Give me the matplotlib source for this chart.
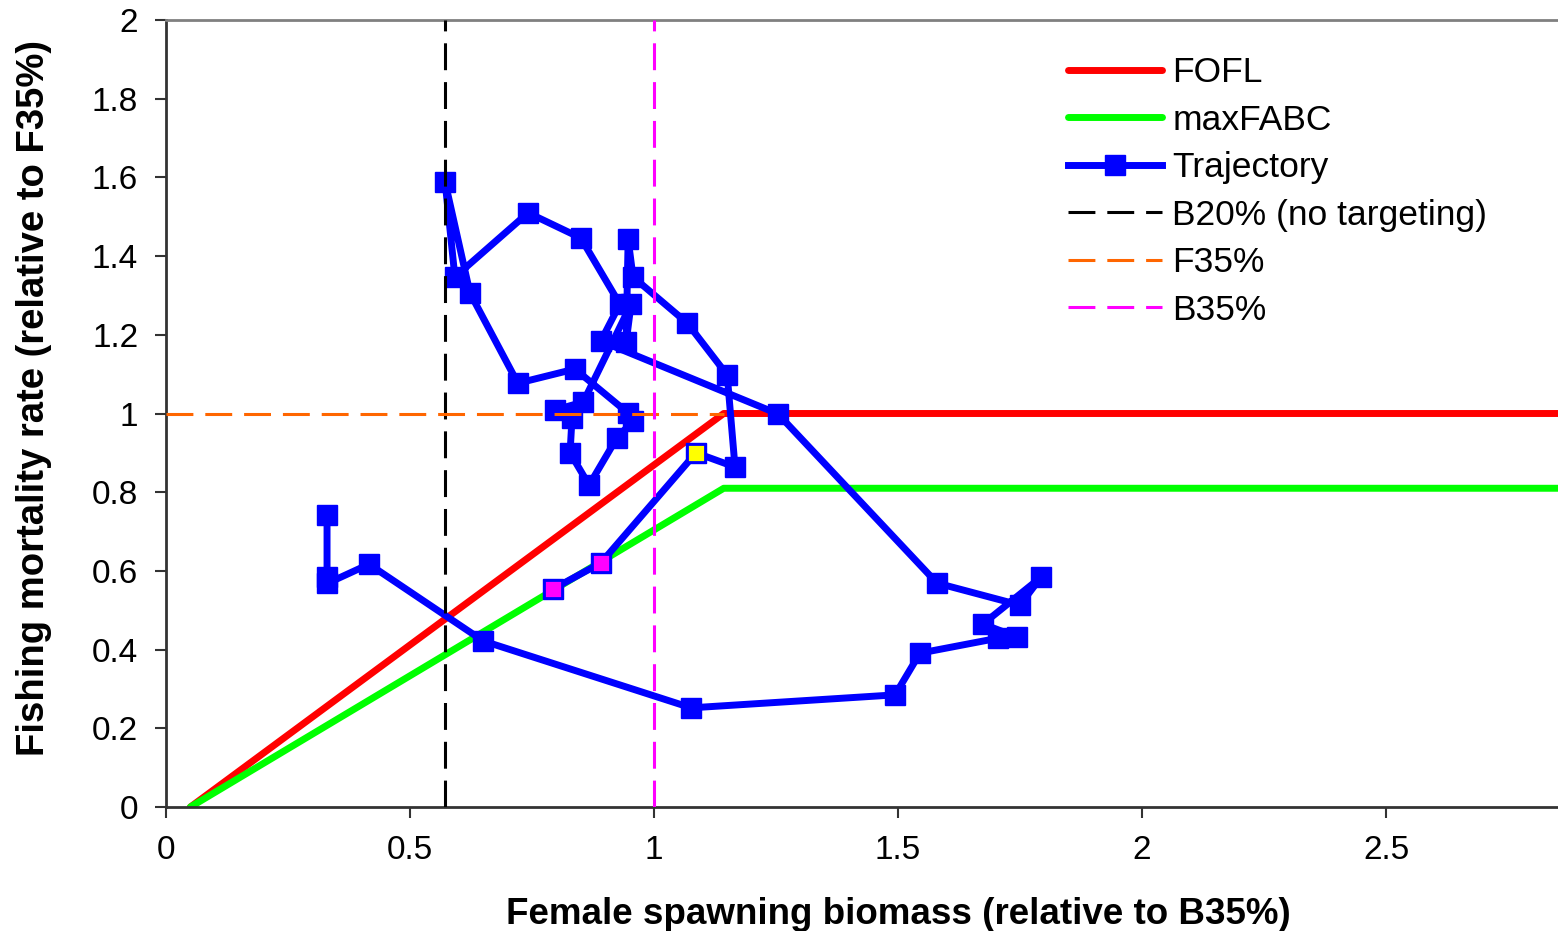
import matplotlib
matplotlib.use("Agg")
import matplotlib.pyplot as plt
from matplotlib.ticker import FuncFormatter

plt.rcParams['font.family'] = ['Liberation Sans', 'DejaVu Sans']

# Harvest control rules (x: B/B35%, y: F/F35%)
rule_b = [0.05, 40 / 35, 3.0]
fofl_f = [0.0, 1.0, 1.0]
maxfabc_f = [0.0, 0.81, 0.81]

# Reference points
b20_rel = 20 / 35
b35_rel = 1.0
f35_rel = 1.0

# Stock trajectory
traj_b = [0.330, 0.330, 0.330, 0.416, 0.650, 1.076, 1.494, 1.545, 1.705, 1.744,
          1.674, 1.793, 1.750, 1.580, 1.254, 0.891, 0.930, 0.850, 0.742, 0.592,
          0.572, 0.623, 0.721, 0.838, 0.947, 0.957, 0.924, 0.867, 0.828, 0.832,
          0.797, 0.855, 0.953, 0.943, 0.947, 0.957, 1.068, 1.150, 1.166, 1.086,
          0.891, 0.793]
traj_f = [0.742, 0.585, 0.568, 0.617, 0.422, 0.252, 0.285, 0.391, 0.429, 0.432,
          0.465, 0.584, 0.513, 0.569, 0.999, 1.184, 1.278, 1.446, 1.510, 1.347,
          1.588, 1.306, 1.077, 1.113, 1.001, 0.981, 0.938, 0.818, 0.900, 0.989,
          1.009, 1.029, 1.278, 1.182, 1.443, 1.347, 1.230, 1.098, 0.864, 0.900,
          0.620, 0.554]
# Colours for the final three years (current year, then projections)
last_colors = ['#FFFF00', '#FF00FF', '#FF00FF']

x_ticks = [0, 0.5, 1, 1.5, 2, 2.5]
y_ticks = [0, 0.2, 0.4, 0.6, 0.8, 1.0, 1.2, 1.4, 1.6, 1.8, 2.0]

W, H = 1558, 931
fig = plt.figure(figsize=(W / 100, H / 100), dpi=100)
ax = fig.add_axes([166 / W, 1 - 807 / H, (1630 - 166) / W, (807 - 20) / H])

ax.plot(rule_b, fofl_f, color='#FF0000', lw=5, solid_capstyle='round',
        label='FOFL', zorder=2)
ax.plot(rule_b, maxfabc_f, color='#00FF00', lw=5, solid_capstyle='round',
        label='maxFABC', zorder=2)
ax.plot(traj_b, traj_f, color='#0000FF', lw=5, marker='s', ms=14,
        mfc='#0000FF', mec='#0000FF', label='Trajectory', zorder=3)
n = len(last_colors)
for bx, fy, c in zip(traj_b[-n:], traj_f[-n:], last_colors):
    ax.plot([bx], [fy], marker='s', ms=13, mfc=c, mec='#0000FF', mew=2,
            ls='none', zorder=4)

dash = [8.8, 3.9]
ax.plot([b20_rel, b20_rel], [0, 2], color='#000000', lw=2.2, dashes=dash,
        label='B20% (no targeting)', zorder=5)
ax.plot([0, rule_b[1]], [f35_rel, f35_rel], color='#FF6600', lw=2.2,
        dashes=dash, label='F35%', zorder=5)
ax.plot([b35_rel, b35_rel], [0, 2], color='#FF00FF', lw=2.2, dashes=dash,
        label='B35%', zorder=5)

ax.set_xlim(0, 3)
ax.set_ylim(0, 2)
ax.set_xticks(x_ticks)
ax.set_yticks(y_ticks)
fmt = FuncFormatter(lambda v, p: '%g' % v)
ax.xaxis.set_major_formatter(fmt)
ax.yaxis.set_major_formatter(fmt)
ax.tick_params(axis='both', direction='out', length=8, width=1.5,
               color='#333333', labelsize=24)
ax.tick_params(axis='y', pad=12)
ax.tick_params(axis='x', pad=12)

for s in ['left', 'bottom']:
    ax.spines[s].set_color('#333333')
    ax.spines[s].set_linewidth(2)
ax.spines['top'].set_color('#808080')
ax.spines['top'].set_linewidth(2)
ax.spines['right'].set_visible(False)

ax.set_xlabel('Female spawning biomass (relative to B35%)', fontsize=26.5,
              fontweight='bold')
ax.set_ylabel('Fishing mortality rate (relative to F35%)', fontsize=27.5,
              fontweight='bold')
ax.xaxis.set_label_coords(0.5, -0.114)
ax.yaxis.set_label_coords(-0.078, 0.52)

leg = fig.legend(loc='upper left', bbox_to_anchor=(1068 / W, 1 - 56 / H),
                 frameon=False, fontsize=25.5, handlelength=2.65,
                 handletextpad=0.3, labelspacing=0.41, borderpad=0,
                 borderaxespad=0, numpoints=1)

fig.savefig('out.png', dpi=100)
